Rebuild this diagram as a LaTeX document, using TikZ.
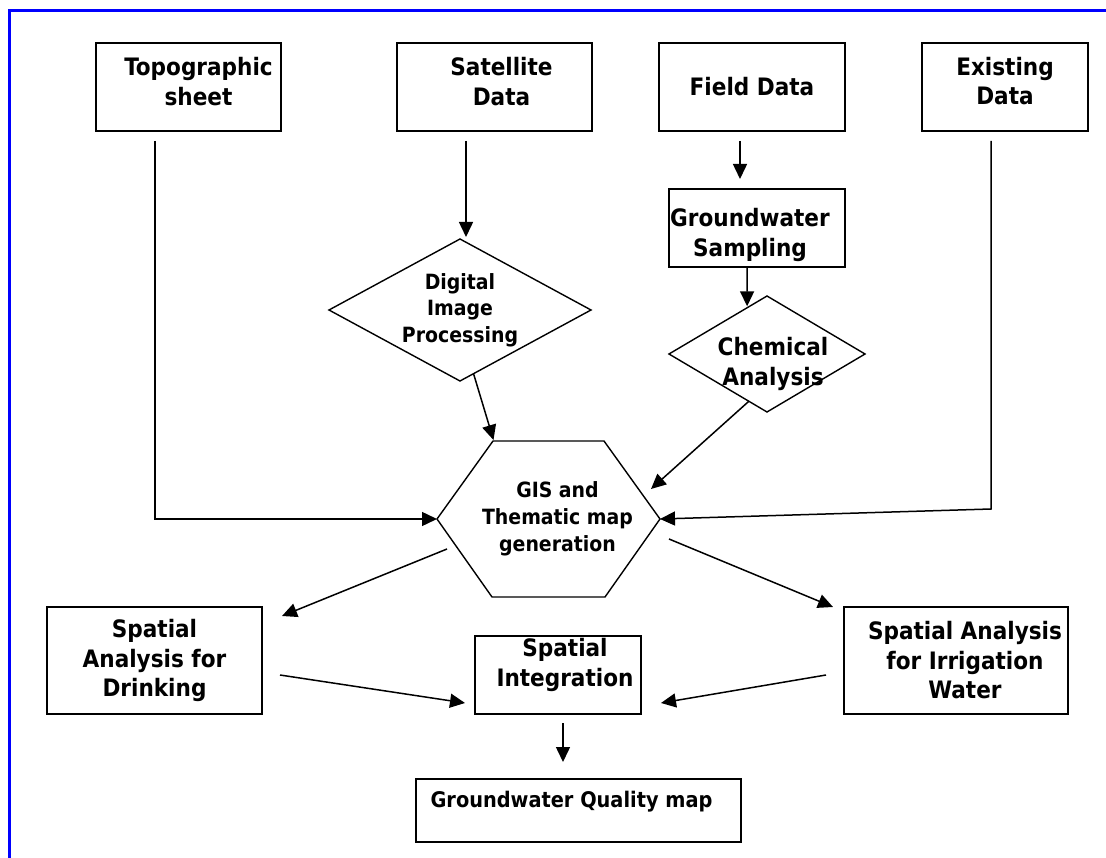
\documentclass[tikz,border=0pt]{standalone}
\usepackage{fontspec}
\newfontfamily\flowfont{DejaVu Sans Condensed Bold}
\usepackage{tikz}
\usetikzlibrary{arrows.meta,positioning,shapes.geometric}

\newcommand{\lift}[1]{\rule[-#1]{0pt}{0pt}}
\newcommand{\sink}[1]{\rule{0pt}{#1}}

\begin{document}
\begin{tikzpicture}[
    x=1pt, y=-1pt,
    font=\flowfont\fontsize{24}{29.5}\selectfont,
    box/.style={draw, line width=1.6pt, align=center, inner sep=0pt, outer sep=0pt},
    decision/.style={draw, diamond, line width=1.4pt, align=center, inner sep=0pt, outer sep=0pt},
    hexa/.style={align=center, inner sep=0pt, outer sep=0pt},
    arrow/.style={-{Triangle[length=15pt,width=14pt]}, line width=1.5pt}
]
\useasboundingbox (0,0) rectangle (1106,858);
\draw[blue, line width=3pt] (9,858) -- (9,10.5) -- (1106,10.5);

\node[box, minimum width=185pt, minimum height=88pt] (topo) at (188.5,87) {\hspace*{20pt}Topographic\\\hspace*{20pt}sheet\lift{11pt}};
\node[box, minimum width=195pt, minimum height=88pt] (sat) at (494.5,87) {\hspace*{14pt}Satellite\\\hspace*{14pt}Data\lift{11pt}};
\node[box, minimum width=186pt, minimum height=88pt] (field) at (752,87) {Field Data};
\node[box, minimum width=166pt, minimum height=88pt] (exist) at (1005,87) {Existing\\Data\lift{12pt}};
\node[box, minimum width=176pt, minimum height=78pt] (samp) at (757,228) {\hspace*{-14pt}\sink{32pt}Groundwater\\\hspace*{-14pt}Sampling};
\node[decision, minimum width=262pt, minimum height=142pt, aspect=1.85,
      font=\flowfont\fontsize{21}{26.5}\selectfont] (dip) at (460,310) {Digital\\Image\\Processing};
\node[decision, minimum width=196pt, minimum height=116pt, aspect=1.69, inner sep=-10pt,
      font=\flowfont\fontsize{24}{30}\selectfont] (chem) at (767,354) {\hspace*{12pt}\sink{38pt}Chemical\\\hspace*{12pt}Analysis};
\node[hexa, minimum width=223pt, minimum height=156pt,
      font=\flowfont\fontsize{21}{27}\selectfont] (gis) at (548.5,519) {\hspace*{18pt}GIS and\\\hspace*{18pt}Thematic map\\\hspace*{18pt}generation};
\draw[line width=1.4pt] (gis.west) -- ([xshift=-55.5pt]gis.north) -- ([xshift=55.5pt]gis.north)
    -- (gis.east) -- ([xshift=56.5pt]gis.south) -- ([xshift=-56.5pt]gis.south) -- cycle;
\node[box, minimum width=215pt, minimum height=107pt] (drink) at (154.5,660.5) {Spatial\\Analysis for\\Drinking};
\node[box, minimum width=166pt, minimum height=78pt] (integ) at (558,675) {\hspace*{14pt}Spatial\\\hspace*{14pt}Integration\lift{25pt}};
\node[box, minimum width=224pt, minimum height=107pt] (irr) at (956,660.5) {\hspace*{18pt}Spatial Analysis\\\hspace*{18pt}for Irrigation\\\hspace*{18pt}Water};
\node[box, minimum width=325pt, text height=28pt, text depth=35pt,
      font=\flowfont\fontsize{21.5}{26}\selectfont] (qual) at (578.5,810.5) {\hspace*{-14pt}Groundwater Quality map};

\draw[arrow] ([xshift=-33.5pt,yshift=-10pt]topo.south) |- (gis.west);
\draw[arrow] ([xshift=-28.5pt,yshift=-10pt]sat.south) -- ([xshift=6pt,yshift=2pt]dip.north);
\draw[arrow] ([xshift=-12pt,yshift=-10pt]field.south) -- ([xshift=-17pt,yshift=10pt]samp.north);
\draw[arrow] ([xshift=-10pt]samp.south) -- ([xshift=-2.5pt]chem.110);
\draw[arrow] (dip.-78) -- ([xshift=-55pt,yshift=1pt]gis.north);
\draw[arrow] (chem.-111) -- ([xshift=102.5pt,yshift=30pt]gis.center);
\draw[arrow] ([xshift=-14pt,yshift=-10pt]exist.south) -- ++(0,368) -- (gis.east);
\draw[arrow] ([xshift=10pt,yshift=-30pt]gis.west) -- ([xshift=20pt,yshift=-9pt]drink.north east);
\draw[arrow] ([xshift=9pt,yshift=-20pt]gis.east) -- ([xshift=-11pt]irr.north west);
\draw[arrow] ([xshift=18pt,yshift=-14.5pt]drink.east) -- ([xshift=-10pt,yshift=11pt]integ.south west);
\draw[arrow] ([xshift=-18pt,yshift=-14.5pt]irr.west) -- ([xshift=20pt,yshift=11pt]integ.south east);
\draw[arrow] ([xshift=5pt,yshift=-9pt]integ.south) -- ([xshift=-15.5pt,yshift=17pt]qual.north);
\end{tikzpicture}
\end{document}
